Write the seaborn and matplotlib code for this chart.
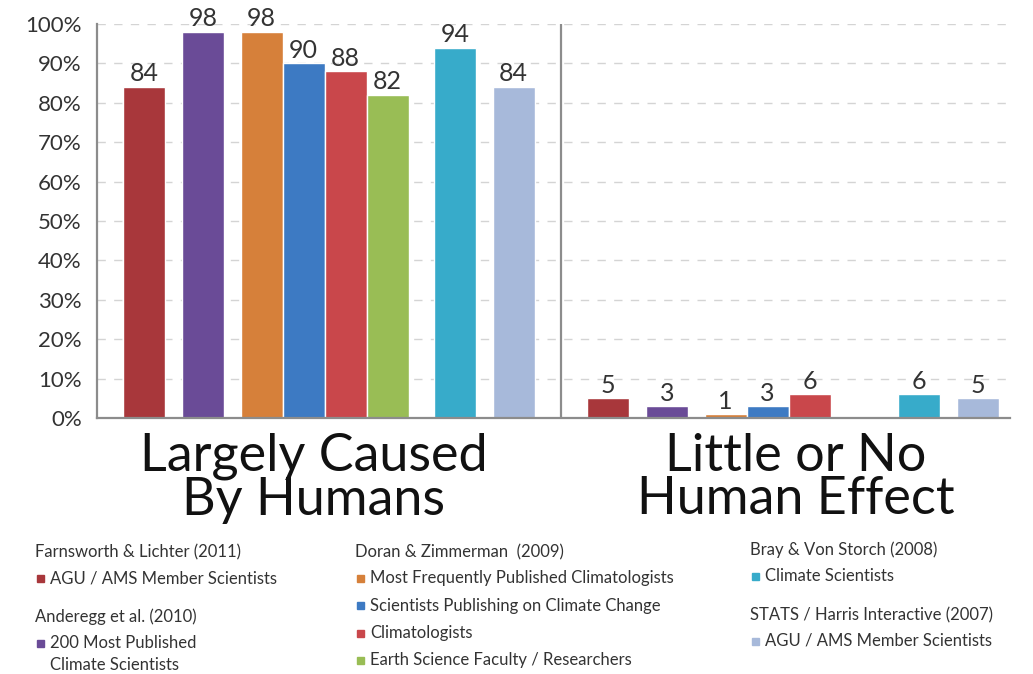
import numpy as np
import pandas as pd
import seaborn as sns
import matplotlib.pyplot as plt
from matplotlib.patches import Rectangle

# ---- data -------------------------------------------------------------
groups = ["Largely Caused\nBy Humans", "Little or No\nHuman Effect"]
series = [
    "Farnsworth: AGU / AMS Member Scientists",
    "Anderegg: 200 Most Published Climate Scientists",
    "Doran: Most Frequently Published Climatologists",
    "Doran: Scientists Publishing on Climate Change",
    "Doran: Climatologists",
    "Doran: Earth Science Faculty / Researchers",
    "Bray: Climate Scientists",
    "STATS: AGU / AMS Member Scientists",
]
largely_caused = [84, 98, 98, 90, 88, 82, 94, 84]
little_or_none = [5, 3, 1, 3, 6, np.nan, 6, 5]
colors = ["#A8373B", "#6A4B97", "#D6803A", "#3D7AC3",
          "#C9474B", "#99BD55", "#37ABCA", "#A7B9DA"]

yticks = [0, 10, 20, 30, 40, 50, 60, 70, 80, 90, 100]

# legend blocks: (study heading, [(series index, label lines)])
legend_blocks = [
    [("Farnsworth & Lichter (2011)", [(0, ["AGU / AMS Member Scientists"])]),
     ("Anderegg et al. (2010)", [(1, ["200 Most Published", "Climate Scientists"])])],
    [("Doran & Zimmerman  (2009)", [(2, ["Most Frequently Published Climatologists"]),
                                   (3, ["Scientists Publishing on Climate Change"]),
                                   (4, ["Climatologists"]),
                                   (5, ["Earth Science Faculty / Researchers"])])],
    [("Bray & Von Storch (2008)", [(6, ["Climate Scientists"])]),
     ("STATS / Harris Interactive (2007)", [(7, ["AGU / AMS Member Scientists"])])],
]

# ---- layout of bars within each group (in bar widths) -----------------
slot_offsets = np.array([0.0, 1.4, 2.8, 3.8, 4.8, 5.8, 7.4, 8.8])
group_starts = [1.12, 12.17]
xmax = 21.74
divider = 11.05

rows = []
for gi, vals in enumerate([largely_caused, little_or_none]):
    for si, v in enumerate(vals):
        rows.append({"x": round(group_starts[gi] + slot_offsets[si], 3),
                     "value": v, "series": series[si]})
df = pd.DataFrame(rows)

# ---- figure -------------------------------------------------------------
sns.set_theme(style="white")
plt.rcParams["font.family"] = ["Lato", "DejaVu Sans"]

W, H = 1033, 674
fig = plt.figure(figsize=(W / 100, H / 100), dpi=100)
ax = fig.add_axes([97 / W, 1 - 418 / H, (1010 - 97) / W, (418 - 24) / H])

sns.barplot(data=df.dropna(), x="x", y="value", hue="series",
            hue_order=series, palette=colors, native_scale=True,
            dodge=False, width=1.0, saturation=1, legend=False, ax=ax)

ax.set_xlim(0, xmax)
ax.set_ylim(0, 100)
ax.set_yticks(yticks)
ax.set_yticklabels([f"{t}%" for t in yticks], fontsize=16, color="#333333")
ax.tick_params(axis="y", length=0, pad=11)
ax.set_xticks([])
ax.set_xlabel("")
ax.set_ylabel("")

for t in yticks[1:]:
    ax.axhline(t, color="#d4d4d4", lw=1.0, ls=(0, (6, 6)), zorder=0)

for side in ["top", "right"]:
    ax.spines[side].set_visible(False)
for side in ["left", "bottom"]:
    ax.spines[side].set_color("#8c8c8c")
    ax.spines[side].set_linewidth(1.6)
ax.axvline(divider, color="#8c8c8c", lw=1.6, zorder=1)

# value labels above each bar
for _, r in df.dropna().iterrows():
    ax.annotate(f"{r['value']:.0f}", (r["x"], r["value"]),
                xytext=(0, 4), textcoords="offset points",
                ha="center", va="baseline", fontsize=18, color="#333333",
                annotation_clip=False)

# group captions under the axis
for gx, label in zip([314, 796], groups):
    fig.text(gx / W, 1 - 433 / H, label, ha="center", va="top",
             fontsize=37.5, color="#111111", linespacing=0.9)

# ---- legend ---------------------------------------------------------------
col_x = [35, 355, 750]
col_y0 = [552, 552, 550]
for cx, y, blocks in zip(col_x, col_y0, legend_blocks):
    for heading, items in blocks:
        fig.text(cx / W, 1 - y / H, heading, ha="left", va="center",
                 fontsize=12, color="#333333")
        y += 26
        for si, lines in items:
            fig.add_artist(Rectangle(((cx + 2) / W, 1 - (y + 3.5) / H),
                                     7 / W, 7 / H, color=colors[si],
                                     transform=fig.transFigure))
            for k, line in enumerate(lines):
                fig.text((cx + 15) / W, 1 - (y + 22 * k) / H, line, ha="left",
                         va="center", fontsize=12, color="#333333")
            y += 27.5 + 22 * (len(lines) - 1)
        y += 11.5

fig.savefig("out.png", dpi=100)
